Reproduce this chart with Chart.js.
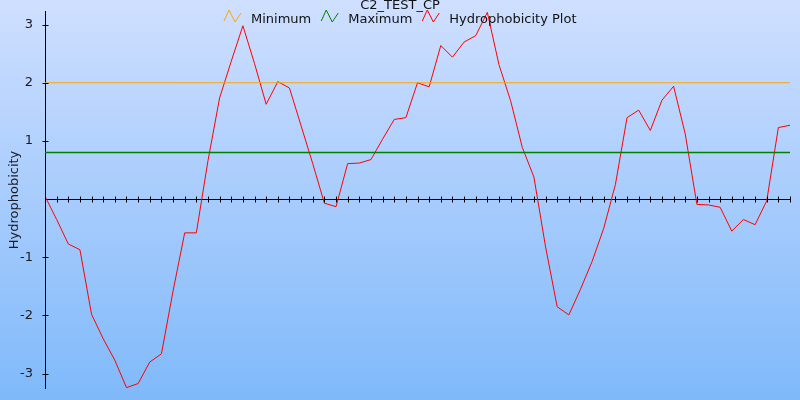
<!DOCTYPE html>
<html>
<head>
<meta charset="utf-8">
<title>C2_TEST_CP</title>
<script src="https://cdn.jsdelivr.net/npm/chart.js@4"></script>
<style>
  html, body { margin: 0; padding: 0; }
  #wrap { width: 800px; height: 400px; }
</style>
</head>
<body>
<div id="wrap"><canvas id="chart"></canvas></div>
<script>
const chartTitle = 'C2_TEST_CP';
const yAxisLabel = 'Hydrophobicity';
const seriesLabels = ['Minimum', 'Maximum', 'Hydrophobicity Plot'];
const seriesColors = ['#ffa500', '#008000', '#ff0000'];
const minimumLevel = 2;
const maximumLevel = 0.8;
const yTickValues = [-3, -2, -1, 1, 2, 3];

// hydrophobicity per residue window
const hydrophobicity = [
  0.05, -0.35, -0.77, -0.87, -1.98, -2.40, -2.77, -3.24, -3.17, -2.80,
  -2.66, -1.58, -0.58, -0.58, 0.66, 1.74, 2.37, 2.98, 2.33, 1.63,
  2.02, 1.91, 1.26, 0.61, -0.07, -0.13, 0.61, 0.62, 0.68, 1.03,
  1.37, 1.40, 2.00, 1.93, 2.64, 2.44, 2.70, 2.81, 3.21, 2.31,
  1.69, 0.89, 0.38, -0.82, -1.85, -1.99, -1.55, -1.07, -0.50, 0.25,
  1.40, 1.53, 1.18, 1.70, 1.94, 1.12, -0.09, -0.10, -0.14, -0.55,
  -0.35, -0.44, -0.03, 1.23, 1.27
];
const positions = hydrophobicity.map((_, i) => i + 1);

const FONT = '"DejaVu Sans", Verdana, sans-serif';
const firstPos = positions[0];
const lastPos = positions[positions.length - 1];

const levelLine = (level) => [{ x: firstPos, y: level }, { x: lastPos, y: level }];

// background gradient behind everything
const backgroundPlugin = {
  id: 'bgGradient',
  beforeDraw(chart) {
    const { ctx, width, height } = chart;
    const g = ctx.createLinearGradient(0, 0, 0, height);
    g.addColorStop(0, '#cfdfff');
    g.addColorStop(1, '#7fb9fa');
    ctx.save();
    ctx.fillStyle = g;
    ctx.fillRect(0, 0, width, height);
    ctx.restore();
  }
};

// tick marks that cross both axes
const crossTicksPlugin = {
  id: 'crossTicks',
  afterDraw(chart) {
    const { ctx, scales } = chart;
    const x = scales.x, y = scales.y;
    const y0 = Math.round(y.getPixelForValue(0)) + 0.5;
    const x0 = Math.round(x.left) + 0.5;
    ctx.save();
    ctx.strokeStyle = '#000';
    ctx.lineWidth = 1;
    ctx.beginPath();
    positions.forEach(p => {
      const px = Math.round(x.getPixelForValue(p)) + 0.5;
      ctx.moveTo(px, y0 - 3);
      ctx.lineTo(px, y0 + 3);
    });
    yTickValues.forEach(v => {
      const py = Math.round(y.getPixelForValue(v)) + 0.5;
      ctx.moveTo(x0 - 3, py);
      ctx.lineTo(x0 + 3, py);
    });
    ctx.stroke();
    ctx.restore();
  }
};

// title + legend drawn on top of the plot area (no reserved space)
const overlayLegendPlugin = {
  id: 'overlayLegend',
  afterDatasetsDraw(chart) {
    const { ctx, width } = chart;
    ctx.save();
    ctx.font = '13px ' + FONT;
    ctx.fillStyle = '#111';
    ctx.textAlign = 'center';
    ctx.textBaseline = 'alphabetic';
    ctx.fillText(chartTitle, width / 2, 9);

    const iconW = 17, gap = 10;
    const items = chart.data.datasets.map(ds => ({
      label: ds.label, color: ds.borderColor, w: ctx.measureText(ds.label).width
    }));
    const total = items.reduce((s, it) => s + iconW + gap + it.w, 0) + gap * (items.length - 1);
    let cx = Math.round(width / 2 - total / 2);
    ctx.textAlign = 'left';
    items.forEach(it => {
      ctx.strokeStyle = it.color;
      ctx.lineWidth = 1;
      ctx.beginPath();
      ctx.moveTo(cx, 21);
      ctx.lineTo(cx + 5, 10);
      ctx.lineTo(cx + 11, 22);
      ctx.lineTo(cx + 17, 13);
      ctx.stroke();
      ctx.fillStyle = '#111';
      ctx.fillText(it.label, cx + iconW + gap, 23);
      cx += iconW + gap + it.w + gap;
    });
    ctx.restore();
  }
};

new Chart(document.getElementById('chart'), {
  type: 'line',
  data: {
    datasets: [
      {
        label: seriesLabels[0],
        data: levelLine(minimumLevel),
        borderColor: seriesColors[0],
        borderWidth: 1,
        pointRadius: 0
      },
      {
        label: seriesLabels[1],
        data: levelLine(maximumLevel),
        borderColor: seriesColors[1],
        borderWidth: 1.5,
        pointRadius: 0
      },
      {
        label: seriesLabels[2],
        data: positions.map((p, i) => ({ x: p, y: hydrophobicity[i] })),
        borderColor: seriesColors[2],
        borderWidth: 1,
        pointRadius: 0,
        tension: 0
      }
    ]
  },
  options: {
    responsive: true,
    maintainAspectRatio: false,
    animation: false,
    layout: { padding: { top: 10, right: 10, bottom: 11, left: 0 } },
    plugins: {
      legend: { display: false },
      title: { display: false },
      tooltip: { enabled: false }
    },
    scales: {
      x: {
        type: 'linear',
        position: { y: 0 },
        min: firstPos,
        max: lastPos,
        grid: { display: false },
        border: { display: true, color: '#000', width: 1 },
        ticks: { display: false },
        afterFit: (scale) => { scale.height = 0; }
      },
      y: {
        min: -3.25,
        max: 3.22,
        grid: { display: false },
        border: { display: true, color: '#000', width: 1 },
        afterBuildTicks: (scale) => {
          scale.ticks = yTickValues.map(v => ({ value: v }));
        },
        afterFit: (scale) => { scale.width = 45; },
        ticks: {
          padding: 4,
          color: '#1a1a22',
          font: { family: FONT, size: 13 }
        },
        title: {
          display: true,
          text: yAxisLabel,
          color: '#1a1a22',
          padding: { top: 7, bottom: 0 },
          font: { family: FONT, size: 13 }
        }
      }
    }
  },
  plugins: [backgroundPlugin, crossTicksPlugin, overlayLegendPlugin]
});
</script>
</body>
</html>
